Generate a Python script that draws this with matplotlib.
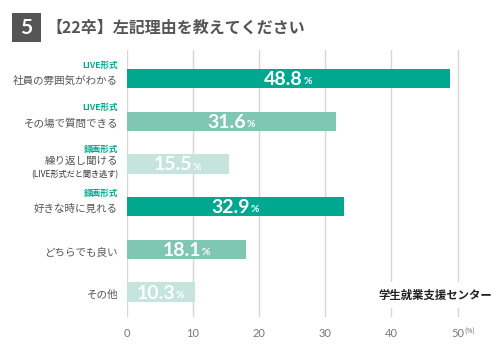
import matplotlib
matplotlib.use("Agg")
import matplotlib.pyplot as plt
import matplotlib.transforms as mtransforms
from matplotlib.patches import Rectangle
import numpy as np

plt.rcParams['font.family'] = ['Noto Sans CJK JP', 'DejaVu Sans']

# ---- data ----
title_num = "5"
title = "【22卒】左記理由を教えてください"
tags = ["LIVE形式", "LIVE形式", "録画形式", "録画形式", "", ""]
labels = ["社員の雰囲気がわかる", "その場で質問できる", "繰り返し聞ける",
          "好きな時に見れる", "どちらでも良い", "その他"]
sublabels = ["", "", "(LIVE形式だと聞き逃す)", "", "", ""]
values = [48.8, 31.6, 15.5, 32.9, 18.1, 10.3]
xticks = [0, 10, 20, 30, 40, 50]
unit = "(%)"
logo = "学生就業支援センター"

dark = "#00a88f"
mid = "#7fc7b3"
light = "#c4e4dc"
colors = [dark, mid, light, dark, mid, light]
gray = "#555555"

W, H = 501, 356
fig = plt.figure(figsize=(W / 100, H / 100), dpi=100)
fig.patch.set_facecolor("white")

x0px, x50px, ytop, ybot = 126.5, 457.7, 50, 317
right_px = 470
xmax = 50 * (right_px - x0px) / (x50px - x0px)
ax = fig.add_axes([x0px / W, 1 - ybot / H, (right_px - x0px) / W, (ybot - ytop) / H])

y = np.arange(len(values))
ax.barh(y, values, height=0.45, color=colors, zorder=2)
ax.set_xlim(0, xmax)
ax.set_ylim(5.585, -0.667)
ax.set_xticks(xticks)
ax.set_xticklabels([str(t) for t in xticks], family="Lato",
                   fontsize=8, color="#777777")
ax.set_yticks([])
ax.tick_params(axis="x", length=0, pad=8)
ax.grid(axis="x", color="#d6d6d6", linewidth=1, zorder=0)
for s in ax.spines.values():
    s.set_visible(False)


def off(dx_px, dy_px):
    return mtransforms.ScaledTranslation(dx_px / 100, -dy_px / 100, fig.dpi_scale_trans)


blend = mtransforms.blended_transform_factory(ax.transAxes, ax.transData)

for i, (tg, lb, sb, v) in enumerate(zip(tags, labels, sublabels, values)):
    if sb:
        main_dy, tag_dy, sub_dy = -3.5, -14.5, 10.5
    else:
        main_dy, tag_dy, sub_dy = 2.5, -13.5, 0
    ax.text(0, i, lb, transform=blend + off(-8.5, main_dy), ha="right", va="center",
            fontsize=7.6, color=gray)
    if tg:
        ax.text(0, i, tg, transform=blend + off(-8.5, tag_dy), ha="right", va="center",
                fontsize=6.2, color=dark, fontweight="bold")
    if sb:
        ax.text(0, i, sb, transform=blend + off(-8.5, sub_dy), ha="right", va="center",
                fontsize=5.9, color="#333333")
    t = ax.text(v / 2, i, f"{v:.1f}", transform=ax.transData + off(-4.5, 1),
                ha="center", va="center", family="Lato", fontweight="bold",
                fontsize=14, color="white", zorder=3)
    ax.annotate("%", xy=(1, 0), xycoords=t, xytext=(0.2, 1.3), textcoords="offset points",
                ha="left", va="bottom",
                family="Lato", fontweight="bold", fontsize=7.5, color="white", zorder=3)

# unit label after the last tick
ax.text(50, 0, unit, transform=mtransforms.blended_transform_factory(ax.transData, ax.transAxes) + off(7, 15),
        ha="left", va="center", fontsize=4.8, color="#666666", clip_on=False)

# logo
fig.text(492 / W, 1 - 295 / H, logo, ha="right", va="center", fontsize=8.2,
         fontweight="bold", color="#222222",
         bbox=dict(boxstyle="square,pad=0.6", facecolor="white", edgecolor="none"))

# title
fig.add_artist(Rectangle((12 / W, 1 - 42 / H), 29 / W, 29 / H, transform=fig.transFigure,
                         facecolor="#555555", edgecolor="none"))
fig.text(26.5 / W, 1 - 28 / H, title_num, ha="center", va="center", color="white",
         fontsize=15, family="Lato", fontweight="bold")
fig.text(46 / W, 1 - 28 / H, title, ha="left", va="center", color="#555555",
         fontsize=11.5, fontweight="bold")

fig.savefig("out.png", dpi=100)
